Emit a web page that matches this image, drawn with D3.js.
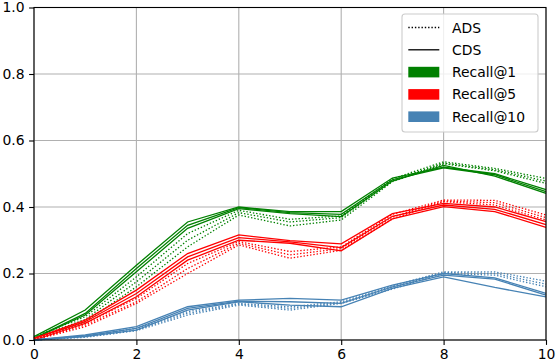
<!DOCTYPE html>
<html>
<head>
<meta charset="utf-8">
<script src="https://cdn.jsdelivr.net/npm/d3@7"></script>
<style>
  body { margin: 0; background: #fff; }
  text { font-family: "DejaVu Sans", sans-serif; }
</style>
</head>
<body>
<div id="chart"></div>
<script>
var width = 556;
var height = 364;

// x values (epochs / k)
var xs = [0, 1, 2, 3, 4, 5, 6, 7, 8, 9, 10];
var x_ticks = [0, 2, 4, 6, 8, 10];
var y_ticks = [0, 0.2, 0.4, 0.6, 0.8, 1.0];

// Recall@1
var r1_cds = [
  [0.010, 0.090, 0.225, 0.355, 0.400, 0.386, 0.386, 0.487, 0.520, 0.500, 0.452],
  [0.005, 0.080, 0.215, 0.345, 0.398, 0.383, 0.378, 0.482, 0.518, 0.497, 0.446],
  [0.005, 0.075, 0.205, 0.336, 0.395, 0.380, 0.371, 0.478, 0.525, 0.493, 0.441]
];
var r1_ads = [
  [0.010, 0.070, 0.190, 0.320, 0.390, 0.363, 0.373, 0.485, 0.536, 0.516, 0.486],
  [0.005, 0.062, 0.175, 0.300, 0.383, 0.355, 0.368, 0.480, 0.532, 0.512, 0.478],
  [0.000, 0.055, 0.160, 0.280, 0.376, 0.343, 0.361, 0.476, 0.530, 0.509, 0.471]
];
// Recall@5
var r5_cds = [
  [0.005, 0.060, 0.150, 0.260, 0.316, 0.299, 0.289, 0.380, 0.411, 0.400, 0.356],
  [0.005, 0.055, 0.140, 0.250, 0.308, 0.295, 0.278, 0.372, 0.406, 0.393, 0.347],
  [0.000, 0.050, 0.130, 0.240, 0.300, 0.291, 0.268, 0.364, 0.401, 0.386, 0.339]
];
var r5_ads = [
  [0.005, 0.050, 0.125, 0.230, 0.296, 0.266, 0.280, 0.378, 0.421, 0.420, 0.376],
  [0.000, 0.045, 0.115, 0.215, 0.291, 0.256, 0.275, 0.370, 0.418, 0.413, 0.368],
  [0.000, 0.040, 0.110, 0.200, 0.286, 0.246, 0.270, 0.364, 0.416, 0.406, 0.361]
];
// Recall@10
var r10_cds = [
  [0.000, 0.015, 0.040, 0.100, 0.120, 0.125, 0.120, 0.165, 0.200, 0.187, 0.140],
  [0.000, 0.012, 0.035, 0.095, 0.117, 0.115, 0.110, 0.160, 0.195, 0.183, 0.135],
  [0.000, 0.010, 0.030, 0.090, 0.115, 0.105, 0.100, 0.155, 0.190, 0.158, 0.130]
];
var r10_ads = [
  [0.000, 0.012, 0.035, 0.085, 0.110, 0.100, 0.115, 0.163, 0.205, 0.205, 0.177],
  [0.000, 0.010, 0.030, 0.080, 0.108, 0.095, 0.112, 0.158, 0.203, 0.200, 0.168],
  [0.000, 0.008, 0.028, 0.075, 0.105, 0.090, 0.110, 0.153, 0.200, 0.195, 0.160]
];

var series_names = ["Recall@1", "Recall@5", "Recall@10"];
var series_colors = ["#008000", "#ff0000", "#4682b4"];
var series_cds = [r1_cds, r5_cds, r10_cds];
var series_ads = [r1_ads, r5_ads, r10_ads];

var margin = {left: 34, right: 10, top: 7.5, bottom: 24};
var dotted = "1.4,1.9";

var svg = d3.select("#chart").append("svg")
  .attr("width", width)
  .attr("height", height);

var xscale = d3.scaleLinear()
  .domain([0, 10])
  .range([margin.left, width - margin.right]);

var yscale = d3.scaleLinear()
  .domain([0, 1])
  .range([height - margin.bottom, margin.top]);

//-------------------- GRID --------------------
var grid = svg.append("g").attr("id", "grid");
grid.selectAll("line.gx").data(x_ticks).enter().append("line")
  .attr("x1", d => xscale(d)).attr("x2", d => xscale(d))
  .attr("y1", yscale(0)).attr("y2", yscale(1))
  .style("stroke", "#b0b0b0").style("stroke-width", 1.1);
grid.selectAll("line.gy").data(y_ticks).enter().append("line")
  .attr("x1", xscale(0)).attr("x2", xscale(10))
  .attr("y1", d => yscale(d)).attr("y2", d => yscale(d))
  .style("stroke", "#b0b0b0").style("stroke-width", 1.1);

//-------------------- LINES --------------------
var line = d3.line()
  .x((d, i) => xscale(xs[i]))
  .y(d => yscale(d));

var g_lines = svg.append("g").attr("id", "lines");
for (let s = 0; s < series_names.length; s++) {
  series_ads[s].forEach(function(run) {
    g_lines.append("path")
      .attr("d", line(run))
      .style("fill", "none")
      .style("stroke", series_colors[s])
      .style("stroke-width", 1.3)
      .style("stroke-dasharray", dotted);
  });
  series_cds[s].forEach(function(run) {
    g_lines.append("path")
      .attr("d", line(run))
      .style("fill", "none")
      .style("stroke", series_colors[s])
      .style("stroke-width", 1.3);
  });
}

//-------------------- AXES --------------------
var x_axis = d3.axisBottom(xscale)
  .tickValues(x_ticks)
  .tickFormat(d3.format("d"))
  .tickSize(4.9)
  .tickPadding(4.4);
var y_axis = d3.axisLeft(yscale)
  .tickValues(y_ticks)
  .tickFormat(d3.format(".1f"))
  .tickSize(4.9)
  .tickPadding(4.6);

var gx = svg.append("g")
  .attr("transform", "translate(0," + yscale(0) + ")")
  .call(x_axis);
var gy = svg.append("g")
  .attr("transform", "translate(" + xscale(0) + ",0)")
  .call(y_axis);

[gx, gy].forEach(function(g) {
  g.select(".domain").remove();
  g.selectAll(".tick line").style("stroke", "#000").style("stroke-width", 1.1);
  g.selectAll(".tick text")
    .style("font-family", "DejaVu Sans")
    .style("font-size", "13.9px")
    .style("fill", "#000");
});

// frame
svg.append("rect")
  .attr("x", xscale(0))
  .attr("y", yscale(1))
  .attr("width", xscale(10) - xscale(0))
  .attr("height", yscale(0) - yscale(1))
  .style("fill", "none")
  .style("stroke", "#000")
  .style("stroke-width", 1.1);

//-------------------- LEGEND --------------------
var legend = svg.append("g").attr("id", "legend");
legend.append("rect")
  .attr("x", 402).attr("y", 14)
  .attr("width", 136).attr("height", 118)
  .attr("rx", 3).attr("ry", 3)
  .style("fill", "#fff").style("fill-opacity", 0.8)
  .style("stroke", "#cccccc").style("stroke-width", 1.1);

var leg_items = [
  {label: "ADS", type: "dotted", color: "#000"},
  {label: "CDS", type: "solid", color: "#000"}
].concat(series_names.map((n, i) => ({label: n, type: "patch", color: series_colors[i]})));

leg_items.forEach(function(it, i) {
  let y = 27.5 + i * 22.3;
  if (it.type === "patch") {
    legend.append("rect")
      .attr("x", 408.3).attr("y", y - 5.3)
      .attr("width", 31).attr("height", 10.6)
      .style("fill", it.color);
  } else {
    let l = legend.append("line")
      .attr("x1", 408.3).attr("x2", 439.3)
      .attr("y1", y).attr("y2", y)
      .style("stroke", it.color)
      .style("stroke-width", 1.3);
    if (it.type === "dotted") l.style("stroke-dasharray", dotted);
  }
  legend.append("text")
    .attr("x", 452)
    .attr("y", y)
    .attr("dy", "0.36em")
    .style("font-size", "13.9px")
    .style("fill", "#000")
    .text(it.label);
});
</script>
</body>
</html>
